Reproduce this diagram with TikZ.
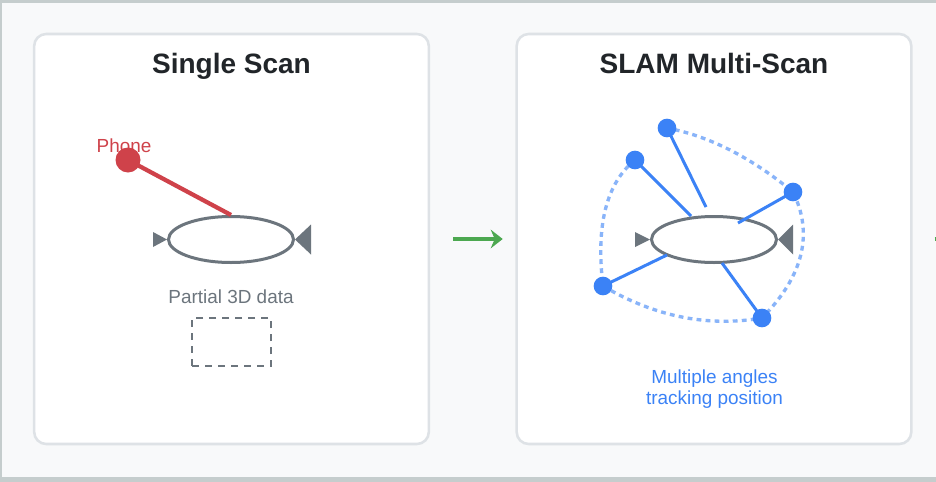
\documentclass[tikz,border=0pt]{standalone}
\usepackage{fontspec}
\setmainfont{Liberation Sans}
\usetikzlibrary{shapes.geometric,arrows.meta}
\definecolor{bggray}{HTML}{F8F9FA}
\definecolor{framegray}{RGB}{197,205,205}
\definecolor{panelgray}{HTML}{DEE2E6}
\definecolor{titledark}{HTML}{212529}
\definecolor{objgray}{HTML}{6C757D}
\definecolor{phonered}{RGB}{207,66,74}
\definecolor{poseblue}{HTML}{3B82F6}
\definecolor{trailblue}{RGB}{137,180,249}
\definecolor{flowgreen}{RGB}{76,168,80}

\begin{document}
\begin{tikzpicture}[x=0.75pt, y=-0.75pt,
	panel/.style={draw=panelgray, line width=1.9pt, fill=white, rounded corners=9pt, minimum width=296pt, minimum height=307.5pt},
	title/.style={anchor=base, text=titledark, font=\fontsize{21}{25}\selectfont\bfseries},
	caption/.style={anchor=base, font=\fontsize{14.2}{16}\selectfont},
	object/.style={ellipse, draw=objgray, line width=2.25pt, minimum width=93.75pt, minimum height=34.5pt, inner sep=0pt},
	phone/.style={circle, fill=phonered, minimum size=18.75pt, inner sep=0pt},
	pose/.style={circle, fill=poseblue, minimum size=14pt, inner sep=0pt},
	ray/.style={poseblue, line width=2.25pt},
	trail/.style={trailblue, line width=2.5pt, dash pattern=on 3.6pt off 3.2pt},
	flow/.style={flowgreen, line width=3pt, -{Stealth[length=9pt, width=14pt, inset=3pt]}}]
		\useasboundingbox (0, 0) rectangle (936, 482);
		\fill [bggray] (0, 0) rectangle (936, 482);
		\fill [framegray] (0, 0) rectangle (936, 2.7);
		\fill [framegray] (0, 0) rectangle (2.3, 482);
		\fill [framegray] (0, 477) rectangle (936, 482);

		\node [panel] (single) at (231.5, 239) {};
		\node [panel] (multi) at (714, 239) {};
		\node [title] at (231.5, 73) {Single Scan};
		\node [title] at (714, 73) {SLAM Multi-Scan};

		\node [object] (scan) at (231, 239.5) {};
		\fill [objgray] (scan.west) -- ++(-14, -7.5) -- ++(0, 15) -- cycle;
		\fill [objgray] (scan.east) -- ++(16, -15) -- ++(0, 30) -- cycle;
		\node [caption, text=phonered] (phonetext) at (124, 152) {Phone};
		\node [phone] (phone) at (128, 160) {};
		\draw [phonered, line width=3.2pt] (phone.center) -- (scan.north);
		\node [caption, text=objgray] (partial) at (231, 303) {Partial 3D data};
		\node [draw=objgray, line width=1.1pt, dash pattern=on 5.25pt off 4.5pt, minimum width=59.25pt, minimum height=36pt, inner sep=0pt] (patch) at (231.5, 342) {};

		\draw [flow, shorten <=17.25pt, shorten >=9.5pt] (single.east) -- (multi.west);
		\begin{scope}
			\clip (0, 0) rectangle (936, 482);
			\coordinate (next) at (990, 239);
			\draw [flow, shorten <=16.5pt] (multi.east) -- (next);
		\end{scope}

		\node [object] (target) at (714, 239.5) {};
		\fill [objgray] (target.west) -- ++(-15, -7.5) -- ++(0, 15) -- cycle;
		\fill [objgray] (target.east) -- ++(15, -15) -- ++(0, 30) -- cycle;
		\coordinate (p1) at (667, 128);
		\coordinate (p2) at (635, 160);
		\coordinate (p3) at (793, 192);
		\coordinate (p4) at (603, 286);
		\coordinate (p5) at (762, 318);
		\draw [trail] (p2) .. controls (606.3, 183.3) and (595.7, 225.3) .. (p4)
			.. controls (655, 316.7) and (708, 327.3) .. (p5)
			.. controls (803.3, 276) and (813.7, 234) .. (p3)
			.. controls (751, 157.3) and (709, 136) .. (p1);
		\coordinate (r1) at (706, 207);
		\coordinate (r2) at (691, 216);
		\coordinate (r3) at (738, 223);
		\coordinate (r4) at (667, 255);
		\coordinate (r5) at (722, 263);
		\foreach \i in {1, ..., 5} {
			\draw [ray] (p\i) -- (r\i);
			\node [pose] (pose\i) at (p\i) {};
		}
		\node [caption, text=poseblue] (angles) at (714.5, 383) {Multiple angles};
		\node [caption, text=poseblue] (tracking) at (714.5, 404) {tracking position};
	\end{tikzpicture}
\end{document}
